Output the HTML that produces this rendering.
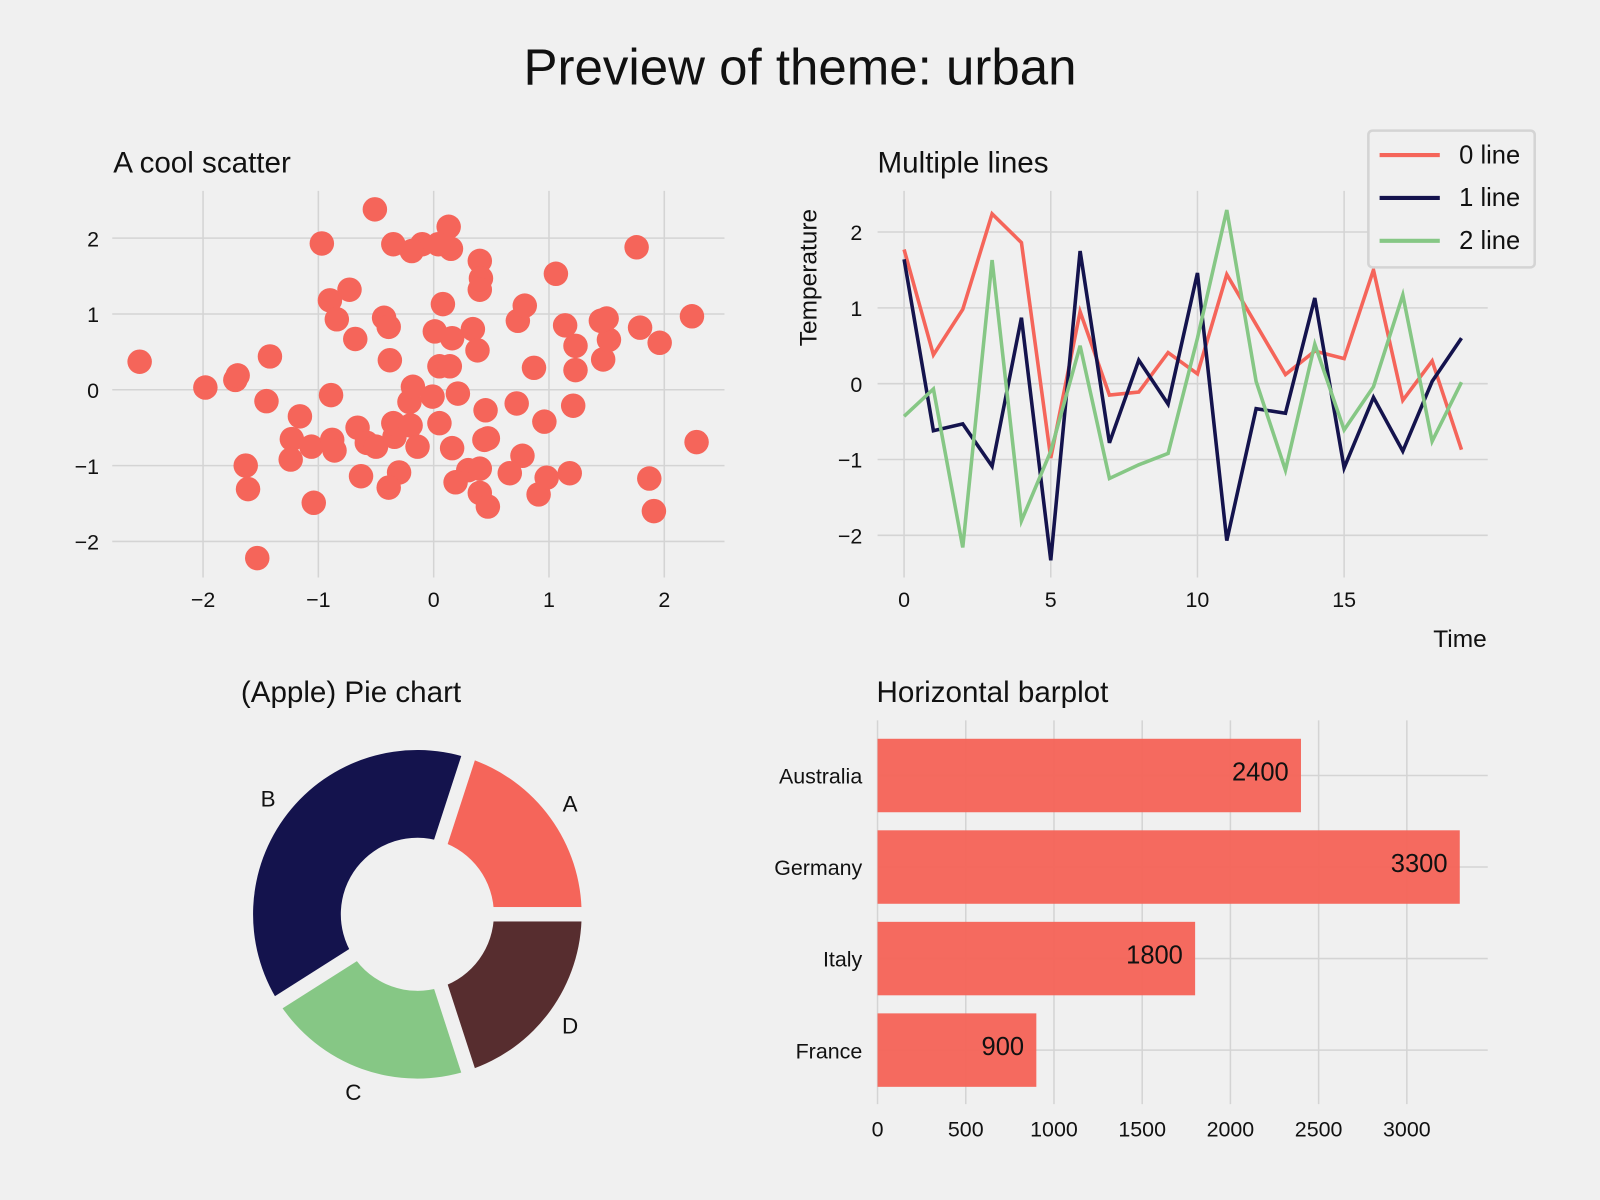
<!DOCTYPE html>
<html><head><meta charset="utf-8"><style>
html,body{margin:0;padding:0;background:#f0f0f0;}
svg{display:block;font-family:"Liberation Sans","DejaVu Sans",sans-serif;}
</style></head><body>
<svg id="c" width="1600" height="1200" viewBox="0 0 1568 1176" xmlns="http://www.w3.org/2000/svg">
<rect width="1568" height="1176" fill="#f0f0f0"/>
<text x="784" y="83" font-size="50" text-anchor="middle" fill="#111">Preview of theme: urban</text>
<g id="scatter"></g>
<g id="lines"></g>
<g id="pie"></g>
<g id="bars"></g>
</svg>
<script>
const scatterX=[-2.55,-1.98,-1.72,-1.70,-1.42,-1.45,-0.89,-1.16,-1.63,-1.61,-1.53,-1.04,-1.23,-1.24,-1.06,-0.88,-0.86,-0.66,-0.58,-0.50,-0.34,-0.35,-0.20,-0.14,-0.63,-0.30,-0.39,-0.21,-0.18,-0.01,0.21,0.05,0.16,0.05,0.14,0.45,0.44,0.47,0.72,0.96,1.21,0.77,0.66,0.30,0.40,0.19,0.40,0.47,0.91,0.98,1.18,1.87,1.91,2.28,0.87,1.23,1.23,1.47,1.52,1.50,1.45,1.14,1.79,1.96,2.24,0.73,0.79,1.06,1.76,0.40,0.41,0.40,0.13,0.15,0.04,-0.10,-0.19,-0.35,-0.51,-0.97,-0.73,-0.90,-0.84,-0.68,-0.43,-0.39,-0.38,0.01,0.16,0.34,0.38,0.08];
const scatterY=[0.37,0.03,0.13,0.19,0.44,-0.15,-0.07,-0.35,-1.00,-1.31,-2.22,-1.49,-0.65,-0.92,-0.75,-0.66,-0.80,-0.50,-0.70,-0.75,-0.62,-0.44,-0.47,-0.75,-1.14,-1.09,-1.29,-0.16,0.04,-0.09,-0.05,-0.44,-0.77,0.31,0.31,-0.27,-0.66,-0.64,-0.18,-0.42,-0.21,-0.87,-1.10,-1.06,-1.04,-1.22,-1.36,-1.54,-1.38,-1.16,-1.10,-1.17,-1.60,-0.69,0.29,0.26,0.58,0.40,0.66,0.94,0.91,0.85,0.82,0.62,0.97,0.91,1.11,1.53,1.88,1.70,1.47,1.32,2.15,1.86,1.92,1.92,1.83,1.92,2.38,1.93,1.32,1.18,0.93,0.67,0.95,0.83,0.39,0.77,0.68,0.80,0.52,1.13];
const scatterXTicks=[-2,-1,0,1,2];
const scatterYTicks=[-2,-1,0,1,2];
const lineX=[0,1,2,3,4,5,6,7,8,9,10,11,12,13,14,15,16,17,18,19];
const line0=[1.77,0.38,0.98,2.24,1.86,-0.98,0.95,-0.15,-0.11,0.41,0.13,1.44,0.78,0.12,0.43,0.33,1.50,-0.22,0.30,-0.87];
const line1=[1.64,-0.62,-0.53,-1.09,0.87,-2.33,1.75,-0.78,0.31,-0.27,1.46,-2.07,-0.33,-0.39,1.13,-1.11,-0.18,-0.89,0.03,0.60];
const line2=[-0.43,-0.07,-2.16,1.63,-1.81,-0.89,0.50,-1.25,-1.07,-0.92,0.60,2.29,0.03,-1.14,0.52,-0.61,-0.04,1.17,-0.76,0.02];
const lineXTicks=[0,5,10,15];
const lineYTicks=[-2,-1,0,1,2];
const pieLabels=["A","B","C","D"];
const pieValues=[20,39,21,20];
const barCats=["Australia","Germany","Italy","France"];
const barVals=[2400,3300,1800,900];
const barTicks=[0,500,1000,1500,2000,2500,3000];

const NS="http://www.w3.org/2000/svg";
function mk(parent,tag,attrs,text){const e=document.createElementNS(NS,tag);for(const k in attrs)e.setAttribute(k,attrs[k]);if(text!==undefined)e.textContent=text;parent.appendChild(e);return e;}
const fmt=v=>v<0?"\u2212"+Math.abs(v):String(v);
const RED="#f5655a",NAVY="#14134d",GREEN="#86c785",BROWN="#572d2f",GRID="#d4d4d4";

// Scatter
(function(){
const g=document.getElementById('scatter');
const sx=v=>425+v*113, sy=v=>382-v*74.3;
let t=mk(g,'text',{x:111,y:169,'font-size':29,fill:'#111'},"A cool scatter");


scatterXTicks.forEach(v=>{
 let l=mk(g,'line',{x1:sx(v),x2:sx(v),y1:187,y2:566,stroke:GRID,'stroke-width':1.5});
 
 
 let tt=mk(g,'text',{x:sx(v),y:595,'font-size':21,'text-anchor':'middle',fill:'#111'},fmt(v));
 
 
});
scatterYTicks.forEach(v=>{
 let l=mk(g,'line',{x1:110,x2:710,y1:sy(v),y2:sy(v),stroke:GRID,'stroke-width':1.5});
 
 
 let tt=mk(g,'text',{x:97,y:sy(v)+8,'font-size':21,'text-anchor':'end',fill:'#111'},fmt(v));
 
 
});
scatterX.forEach((x,i)=>{
 let c=mk(g,'circle',{cx:sx(x),cy:sy(scatterY[i]),r:12,fill:RED});
 
 
});
})();

// Lines
(function(){
const g=document.getElementById('lines');
const sx=v=>886+v*28.75, sy=v=>376-v*74.3;
let t=mk(g,'text',{x:860,y:169,'font-size':29,fill:'#111'},"Multiple lines");


lineXTicks.forEach(v=>{
 let l=mk(g,'line',{x1:sx(v),x2:sx(v),y1:187,y2:566,stroke:GRID,'stroke-width':1.5});
 
 
 let tt=mk(g,'text',{x:sx(v),y:595,'font-size':21,'text-anchor':'middle',fill:'#111'},fmt(v));
 
 
});
lineYTicks.forEach(v=>{
 let l=mk(g,'line',{x1:860,x2:1458,y1:sy(v),y2:sy(v),stroke:GRID,'stroke-width':1.5});
 
 
 let tt=mk(g,'text',{x:845,y:sy(v)+8,'font-size':21,'text-anchor':'end',fill:'#111'},fmt(v));
 
 
});
let xl=mk(g,'text',{x:1457,y:634,'font-size':24,'text-anchor':'end',fill:'#111'},"Time");


let yl=mk(g,'text',{x:0,y:0,'font-size':24,'text-anchor':'middle',fill:'#111',transform:'translate(800,272) rotate(-90)'},"Temperature");


[[line0,RED,'line-0'],[line1,NAVY,'line-1'],[line2,GREEN,'line-2']].forEach(([d,col,n])=>{
 let p=mk(g,'polyline',{points:lineX.map((x,i)=>sx(x)+','+sy(d[i])).join(' '),fill:'none',stroke:col,'stroke-width':3.5,'stroke-linejoin':'miter'});
 
 
});
let lg=mk(g,'g',{});


mk(lg,'rect',{x:1341,y:128,width:163,height:134,rx:4,fill:'#f0f0f0',stroke:'#d4d4d4','stroke-width':2.5});
[["0 line",RED],["1 line",NAVY],["2 line",GREEN]].forEach(([lab,col],i)=>{
 const y=152+i*42;
 let e=mk(lg,'g',{});
 
 
 mk(e,'line',{x1:1352,x2:1411,y1:y,y2:y,stroke:col,'stroke-width':4});
 mk(e,'text',{x:1430,y:y+8,'font-size':25,fill:'#111'},lab);
});
})();

// Pie
(function(){
const g=document.getElementById('pie');
const cx=409,cy=896,R=161,r=75;
let t=mk(g,'text',{x:344,y:688,'font-size':29,'text-anchor':'middle',fill:'#111'},"(Apple) Pie chart");


const cols=[RED,NAVY,GREEN,BROWN];
const tot=pieValues.reduce((a,b)=>a+b,0);
let a0=0;const bounds=[0];
pieValues.forEach((v,i)=>{
 const a1=a0+v/tot*2*Math.PI;
 const P=(rad,a)=>[cx+rad*Math.cos(a),cy-rad*Math.sin(a)];
 const large=(a1-a0)>Math.PI?1:0;
 const [x1,y1]=P(R,a0),[x2,y2]=P(R,a1),[x3,y3]=P(r,a1),[x4,y4]=P(r,a0);
 let p=mk(g,'path',{d:`M${x1},${y1} A${R},${R} 0 ${large} 0 ${x2},${y2} L${x3},${y3} A${r},${r} 0 ${large} 1 ${x4},${y4} Z`,fill:cols[i]});
 
 
 const am=(a0+a1)/2;
 const [lx,ly]=P(R*1.1+8,am);
 let lt=mk(g,'text',{x:lx,y:ly+8,'font-size':22,'text-anchor':'middle',fill:'#111'},pieLabels[i]);
 
 
 a0=a1;bounds.push(a1);
});
bounds.forEach(a=>{
 let l=mk(g,'line',{x1:cx+(r-5)*Math.cos(a),y1:cy-(r-5)*Math.sin(a),x2:cx+(R+5)*Math.cos(a),y2:cy-(R+5)*Math.sin(a),stroke:'#f0f0f0','stroke-width':14});
 
 
});
})();

// Bars
(function(){
const g=document.getElementById('bars');
const sx=v=>860+v*0.1729;
let t=mk(g,'text',{x:859,y:688,'font-size':29,fill:'#111'},"Horizontal barplot");


barTicks.forEach(v=>{
 let l=mk(g,'line',{x1:sx(v),x2:sx(v),y1:706,y2:1082,stroke:GRID,'stroke-width':1.5});
 
 
 let tt=mk(g,'text',{x:sx(v),y:1114,'font-size':21,'text-anchor':'middle',fill:'#111'},String(v));
 
 
});
barCats.forEach((c,i)=>{
 const yc=760+i*89.7;
 let l=mk(g,'line',{x1:860,x2:1458,y1:yc,y2:yc,stroke:GRID,'stroke-width':1.5});
 
 
 let b=mk(g,'rect',{x:sx(0),y:yc-36,width:sx(barVals[i])-sx(0),height:72,fill:RED,'fill-opacity':0.97});
 
 
 let vt=mk(g,'text',{x:sx(barVals[i])-12,y:yc+5,'font-size':25,'text-anchor':'end',fill:'#111'},String(barVals[i]));
 
 
 let ct=mk(g,'text',{x:845,y:yc+8,'font-size':21,'text-anchor':'end',fill:'#111'},c);
 
 
});
})();
</script>
</body></html>
